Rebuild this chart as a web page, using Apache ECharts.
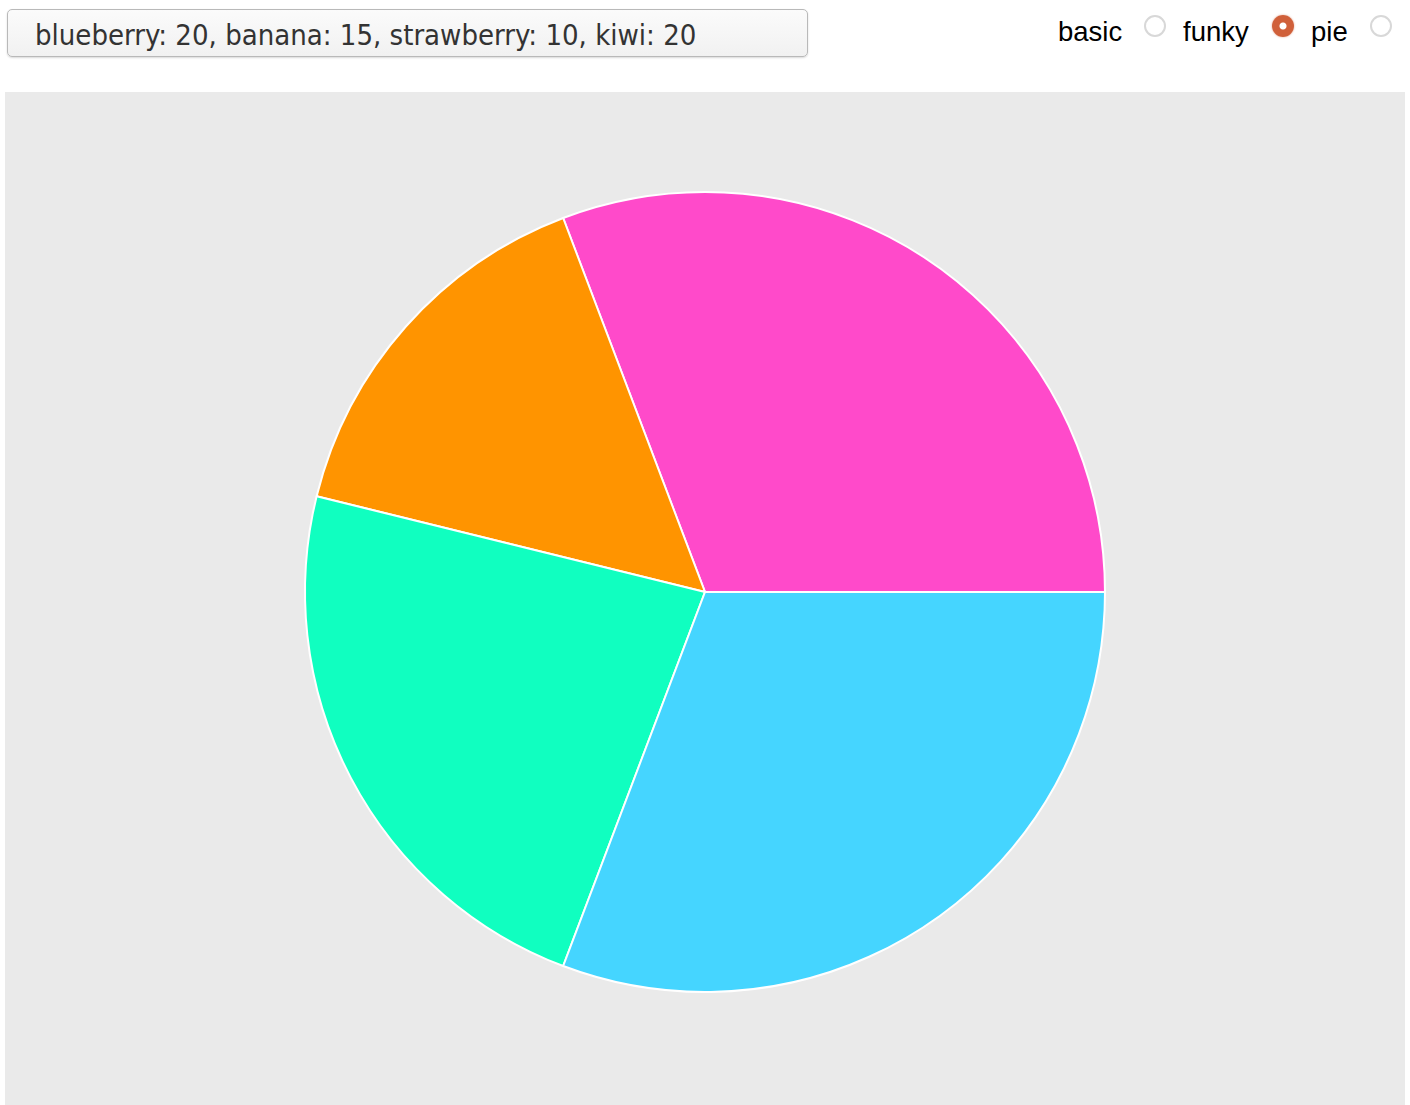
<!DOCTYPE html>
<html>
<head>
<meta charset="utf-8">
<script src="https://cdn.jsdelivr.net/npm/echarts@6/dist/echarts.min.js"></script>
<style>
html,body{margin:0;padding:0;width:1410px;height:1105px;background:#fff;overflow:hidden;}
#inputbox{position:absolute;left:7px;top:9px;width:801px;height:48px;border:1px solid #b9b9b9;border-radius:5px;
  background:linear-gradient(#fbfbfb,#f1f1f1);box-shadow:0 1px 2px rgba(0,0,0,0.15);box-sizing:border-box;
  font-family:"DejaVu Sans Condensed","DejaVu Sans",sans-serif;font-size:29px;color:#333;line-height:50px;padding-left:27px;white-space:nowrap;}
#radios{position:absolute;top:0;left:0;}
.lbl{position:absolute;top:15px;font-family:"Liberation Sans",Arial,sans-serif;font-size:27.5px;color:#000;line-height:34px;}
.rad{position:absolute;top:15px;width:22px;height:22px;border-radius:50%;border:2px solid #d8d8d8;box-sizing:border-box;background:#fff;}
.rad.on{border:none;background:radial-gradient(circle,#fff 0 3px,#d0603a 4px);box-shadow:0 0 2px rgba(208,96,58,0.6);}
#chart{position:absolute;left:5px;top:92px;width:1400px;height:1013px;}
</style>
</head>
<body>
<div id="inputbox"></div>
<div id="radios"></div>
<div id="chart"></div>
<script>
// input order (as typed in the text box)
var categories = ["blueberry", "banana", "strawberry", "kiwi"];
var values = [20, 15, 10, 20];
var colors = ["#FF4ACA", "#10FFC0", "#FF9400", "#45D5FF"];
// order in which slices are laid out counter-clockwise from 3 o'clock
var sliceOrder = ["blueberry", "strawberry", "banana", "kiwi"];
var modes = ["basic", "funky", "pie"];
var selectedMode = "funky";

document.getElementById('inputbox').textContent =
  categories.map(function(c, i){ return c + ": " + values[i]; }).join(", ");

var lblX = [1058, 1183, 1311];
var radX = [1144, 1272, 1370];
var rc = document.getElementById('radios');
modes.forEach(function(m, i){
  var l = document.createElement('span'); l.className = 'lbl'; l.style.left = lblX[i] + 'px'; l.textContent = m; rc.appendChild(l);
  var r = document.createElement('span'); r.className = 'rad' + (m === selectedMode ? ' on' : ''); r.style.left = radX[i] + 'px'; rc.appendChild(r);
});

var chart = echarts.init(document.getElementById('chart'));
chart.setOption({
  backgroundColor: '#EAEAEA',
  animation: false,
  series: [{
    type: 'pie',
    center: [700, 500],
    radius: [0, 400],
    startAngle: 0,
    clockwise: false,
    label: { show: false },
    labelLine: { show: false },
    itemStyle: { borderColor: '#ffffff', borderWidth: 2 },
    emphasis: { disabled: true },
    data: sliceOrder.map(function(c){
      var i = categories.indexOf(c);
      return { name: c, value: values[i], itemStyle: { color: colors[i] } };
    })
  }]
});
</script>
</body>
</html>
